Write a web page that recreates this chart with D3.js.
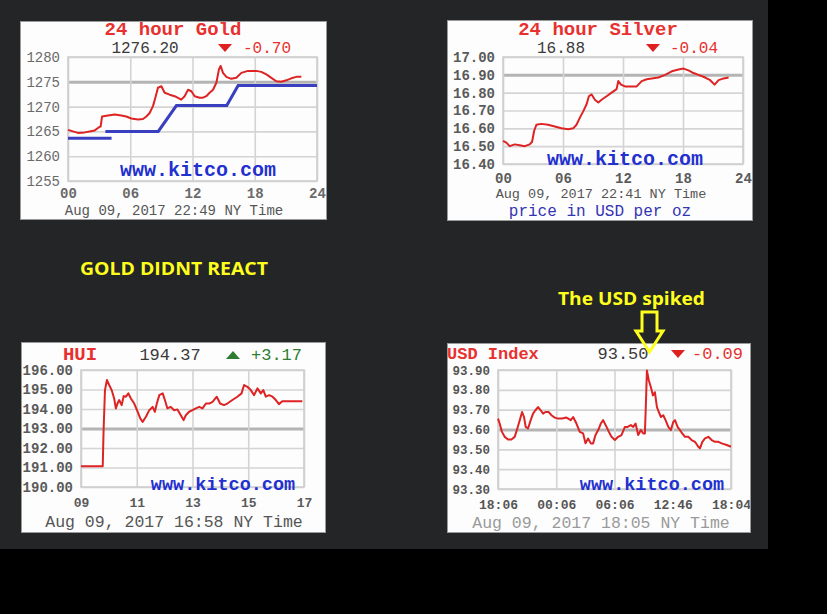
<!DOCTYPE html>
<html>
<head>
<meta charset="utf-8">
<script src="https://cdn.jsdelivr.net/npm/d3@7"></script>
<style>
body{margin:0;background:#000;}
svg text{font-family:"Liberation Mono","DejaVu Sans Mono",monospace;}
</style>
</head>
<body>
<svg id="canvas" width="827" height="614"></svg>
<script>
// ---- DATA ----

// 24 hour gold, hours since 00:00
var goldHours = [0,0.48,0.96,1.61,2.09,2.57,2.89,3.15,3.28,3.86,4.5,5.14,5.62,6.1,6.75,7.23,7.55,7.87,8.19,8.42,8.67,9.0,9.32,9.8,10.28,10.92,11.24,11.57,11.89,12.21,12.69,13.01,13.33,13.65,13.98,14.3,14.55,14.71,14.94,15.26,15.74,16.22,16.71,17.35,18.15,18.63,19.12,19.6,20.08,20.56,21.04,21.53,22.01,22.49];
var goldPrices = [1265.3,1265.0,1264.7,1264.8,1265.0,1265.2,1265.7,1266.0,1268.0,1268.2,1268.4,1268.2,1268.0,1267.6,1267.4,1267.5,1268.0,1268.7,1270.1,1271.8,1273.8,1274.1,1272.8,1272.4,1272.1,1271.4,1272.1,1273.4,1273.1,1272.1,1271.8,1271.8,1272.1,1272.8,1273.4,1274.8,1277.5,1278.2,1276.8,1276.0,1275.6,1275.8,1276.8,1277.2,1277.2,1277.0,1276.5,1275.8,1275.1,1275.0,1275.3,1275.7,1276.0,1276.0];
var goldTicks = [1255,1260,1265,1270,1275,1280];
// blue steps drawn over the gold chart
var goldStepAHours = [0,4.2], goldStepAPrices = [1263.6,1263.6];
var goldStepBHours = [3.6,8.7,10.45,15.3,16.4,24], goldStepBPrices = [1265.0,1265.0,1270.2,1270.2,1274.25,1274.25];

// 24 hour silver
var silverHours = [0,0.33,0.67,1.17,1.67,2.17,2.67,2.91,3.11,3.34,3.84,4.51,5.18,5.85,6.52,7.02,7.35,7.69,8.02,8.36,8.59,8.86,9.19,9.53,9.86,10.36,10.86,11.36,11.53,11.8,12.2,12.87,13.37,13.87,14.37,14.87,15.54,16.21,16.88,17.55,18.05,18.55,19.05,19.55,20.22,20.72,21.16,21.56,22.06,22.56];
var silverPrices = [16.53,16.52,16.50,16.51,16.505,16.50,16.51,16.525,16.585,16.62,16.625,16.62,16.61,16.60,16.595,16.60,16.62,16.66,16.695,16.735,16.78,16.79,16.76,16.745,16.76,16.78,16.80,16.82,16.865,16.845,16.835,16.835,16.835,16.865,16.875,16.88,16.885,16.90,16.92,16.93,16.935,16.925,16.91,16.90,16.885,16.87,16.845,16.87,16.88,16.885];
var silverTicks = [16.40,16.50,16.60,16.70,16.80,16.90,17.00];

var hourTicks = [0,6,12,18,24];
var hourLabels = ['00','06','12','18','24'];

// HUI, NY hours
var huiHours = [9.0,9.78,9.81,9.86,9.93,10.01,10.1,10.19,10.25,10.31,10.37,10.46,10.53,10.61,10.7,10.79,10.91,11.03,11.13,11.21,11.33,11.45,11.57,11.65,11.72,11.81,11.93,12.01,12.1,12.22,12.34,12.46,12.58,12.68,12.76,12.88,13.0,13.12,13.24,13.36,13.48,13.6,13.72,13.87,13.99,14.13,14.25,14.43,14.61,14.76,14.85,14.97,15.09,15.21,15.33,15.45,15.54,15.63,15.75,15.87,15.99,16.1,16.22,16.34,16.94];
var huiValues = [191.06,191.06,192.91,194.97,195.49,195.23,194.97,194.54,194.03,194.28,194.46,194.2,194.66,194.63,194.8,194.54,194.28,193.86,193.51,193.34,193.6,193.94,194.11,193.86,194.28,194.71,194.8,194.46,194.03,194.11,193.94,193.98,193.68,193.43,193.68,193.86,193.94,194.03,194.11,194.03,194.28,194.28,194.37,194.63,194.28,194.2,194.28,194.46,194.63,194.8,195.23,195.14,194.97,194.71,195.06,194.8,194.97,194.63,194.71,194.63,194.46,194.25,194.4,194.4,194.4];
var huiTicks = [190,191,192,193,194,195,196];
var huiHourTicks = [9,11,13,15,17];
var huiHourLabels = ['09','11','13','15','17'];

// USD index, hours since 18:06 the day before
var usdHours = [0,0.17,0.41,0.69,1.03,1.38,1.72,1.99,2.24,2.48,2.68,2.85,3.09,3.37,3.61,3.85,4.13,4.4,4.64,4.88,5.23,5.5,5.85,6.19,6.6,7.05,7.5,7.74,8.08,8.42,8.77,9.01,9.28,9.56,9.8,10.04,10.32,10.59,10.83,11.18,11.42,11.69,12.04,12.38,12.72,13.07,13.34,13.69,13.93,14.17,14.44,14.72,14.96,15.13,15.23,15.34,15.54,15.75,15.96,16.16,16.37,16.57,16.78,17.02,17.26,17.54,17.81,18.05,18.23,18.5,18.74,18.98,19.26,19.6,19.94,20.29,20.63,20.8,21.05,21.32,21.66,22.01,22.35,22.7,23.04,23.56,24];
var usdValues = [93.655,93.63,93.588,93.563,93.55,93.55,93.563,93.605,93.647,93.688,93.663,93.613,93.605,93.647,93.68,93.697,93.713,93.697,93.68,93.688,93.688,93.672,93.66,93.655,93.655,93.66,93.647,93.663,93.63,93.588,93.58,93.53,93.555,93.53,93.53,93.572,93.597,93.63,93.647,93.613,93.588,93.563,93.547,93.563,93.572,93.613,93.613,93.622,93.613,93.63,93.572,93.597,93.58,93.58,93.722,93.897,93.847,93.813,93.772,93.788,93.713,93.688,93.663,93.672,93.647,93.613,93.597,93.638,93.647,93.613,93.597,93.58,93.563,93.563,93.547,93.538,93.513,93.505,93.538,93.555,93.563,93.547,93.538,93.538,93.53,93.522,93.513];
var usdTicks = [93.30,93.40,93.50,93.60,93.70,93.80,93.90];
var usdHourLabels = ['18:06','00:06','06:06','12:46','18:04'];

// ---- DRAWING ----
var svg = d3.select('#canvas');

svg.append('rect').attr('x',0).attr('y',0).attr('width',768).attr('height',549).attr('fill','#232527');

function drawPanel(p) {
    var defs = svg.append('defs');
    defs.append('clipPath').attr('id','clip-'+p.id)
        .append('rect').attr('x',p.box[0]).attr('y',p.box[1]).attr('width',p.box[2]).attr('height',p.box[3]);

    var g = svg.append('g').attr('class','panel').attr('clip-path','url(#clip-'+p.id+')');
    g.append('rect')
        .attr('x',p.box[0]).attr('y',p.box[1]).attr('width',p.box[2]).attr('height',p.box[3])
        .attr('fill','#fdfdfd');

    var x = d3.scaleLinear().domain(p.xDomain).range([p.plot[0],p.plot[1]]);
    var y = d3.scaleLinear().domain(p.yDomain).range([p.plot[3],p.plot[2]]);
    var pw = p.plot[1]-p.plot[0], ph = p.plot[3]-p.plot[2];

    // horizontal grid + labels
    var yAxis = g.append('g').attr('transform','translate('+p.plot[0]+',0)')
        .call(d3.axisLeft(y).tickValues(p.yTicks).tickSize(-pw).tickPadding(p.yPad)
            .tickFormat(function(d){ return d3.format(p.yFormat)(d); }));
    yAxis.select('.domain').remove();
    yAxis.attr('font-family',null).attr('font-size',null);
    yAxis.selectAll('line')
        .attr('stroke',function(d){ return Math.abs(d-p.refLine)<1e-6 ? '#b4b4b4' : '#d4d4d4'; })
        .attr('stroke-width',function(d){ return Math.abs(d-p.refLine)<1e-6 ? 3 : 1.6; });
    yAxis.selectAll('text').attr('fill',p.tickColor).style('font-size',p.yFont+'px')
        .style('font-weight',p.tickWeight);

    // vertical grid + labels
    var xAxis = g.append('g').attr('transform','translate(0,'+p.plot[3]+')')
        .call(d3.axisBottom(x).tickValues(p.xTicks).tickSize(-ph).tickPadding(p.xPad)
            .tickFormat(function(d,i){ return p.xLabels[i]; }));
    xAxis.select('.domain').remove();
    xAxis.attr('font-family',null).attr('font-size',null);
    xAxis.selectAll('line').attr('stroke','#d4d4d4').attr('stroke-width',1.6);
    xAxis.selectAll('text').attr('fill',p.tickColor).style('font-size',p.xFont+'px')
        .style('font-weight','bold');

    // plot frame
    g.append('rect').attr('x',p.plot[0]).attr('y',p.plot[2]).attr('width',pw).attr('height',ph)
        .attr('fill','none').attr('stroke','#cfcfcf').attr('stroke-width',1.6);

    // kitco watermark
    g.append('text').attr('x',p.kitco[0]).attr('y',p.kitco[1]).attr('text-anchor','middle')
        .attr('dominant-baseline','central')
        .style('font-size',p.kitco[2]+'px').style('font-weight','bold').attr('fill','#2330d0')
        .text('www.kitco.com');

    // price line
    var line = d3.line().x(function(d){ return x(d[0]); }).y(function(d){ return y(d[1]); });
    g.append('path').datum(d3.zip(p.hours,p.values))
        .attr('d',line).attr('fill','none').attr('stroke','#dd2323')
        .attr('stroke-width',2).attr('stroke-linejoin','round');

    // extra overlay lines
    (p.overlays || []).forEach(function(o){
        g.append('path').datum(d3.zip(o.hours,o.values))
            .attr('d',line).attr('fill','none').attr('stroke','#3a3fc0')
            .attr('stroke-width',3);
    });

    // header texts
    p.texts.forEach(function(t){
        g.append('text').attr('x',t.x).attr('y',t.y)
            .attr('text-anchor',t.anchor || 'middle').attr('dominant-baseline','central')
            .style('font-size',t.size+'px').style('font-weight',t.weight || 'normal')
            .attr('fill',t.color).text(t.text);
    });

    // change triangle
    var tr = p.triangle;
    var pts = tr.up ? [[tr.x-7,tr.y+4],[tr.x+7,tr.y+4],[tr.x,tr.y-4]]
                    : [[tr.x-7,tr.y-4],[tr.x+7,tr.y-4],[tr.x,tr.y+4]];
    g.append('path').attr('d','M'+pts.join('L')+'Z').attr('fill',tr.color);

    svg.append('rect')
        .attr('x',p.box[0]+0.5).attr('y',p.box[1]+0.5).attr('width',p.box[2]-1).attr('height',p.box[3]-1)
        .attr('fill','none').attr('stroke','#9a9a9a').attr('stroke-width',1);
}

var red = '#e8302f', grey = '#3a3a3a';

drawPanel({
    id:'gold', box:[20,21,307,199], plot:[68,317,57,181],
    xDomain:[0,24], yDomain:[1255,1280], yTicks:goldTicks, yFormat:'d', refLine:1275,
    xTicks:hourTicks, xLabels:hourLabels,
    hours:goldHours, values:goldPrices,
    overlays:[{hours:goldStepAHours, values:goldStepAPrices},{hours:goldStepBHours, values:goldStepBPrices}],
    yPad:8, xPad:7, yFont:14, xFont:14, tickColor:'#6a6a6a', tickWeight:'normal',
    kitco:[198,170,20],
    texts:[
        {text:'24 hour Gold', x:173, y:30, size:19, weight:'bold', color:red},
        {text:'1276.20', x:145, y:49, size:16, color:grey},
        {text:'-0.70', x:243, y:49, size:16, color:red, anchor:'start'},
        {text:'Aug 09, 2017 22:49 NY Time', x:174, y:211, size:14, color:'#555'}
    ],
    triangle:{x:225, y:48, color:'#e02020'}
});

drawPanel({
    id:'silver', box:[447,20,306,201], plot:[503,743,57,164],
    xDomain:[0,24], yDomain:[16.40,17.00], yTicks:silverTicks, yFormat:'.2f', refLine:16.90,
    xTicks:hourTicks, xLabels:hourLabels,
    hours:silverHours, values:silverPrices,
    yPad:8, xPad:9, yFont:14, xFont:14, tickColor:'#5a5a5a', tickWeight:'bold',
    kitco:[625,159,20],
    texts:[
        {text:'24 hour Silver', x:598, y:30, size:19, weight:'bold', color:red},
        {text:'16.88', x:561, y:49, size:16, color:grey},
        {text:'-0.04', x:670, y:49, size:16, color:red, anchor:'start'},
        {text:'Aug 09, 2017 22:41 NY Time', x:601, y:194, size:13.5, color:'#555'},
        {text:'price in USD per oz', x:600, y:212, size:16, color:'#3434b4'}
    ],
    triangle:{x:653, y:48, color:'#e02020'}
});

drawPanel({
    id:'hui', box:[21,342,305,191], plot:[81,304,370,487],
    xDomain:[9,17], yDomain:[190,196], yTicks:huiTicks, yFormat:'.2f', refLine:193,
    xTicks:huiHourTicks, xLabels:huiHourLabels,
    hours:huiHours, values:huiValues,
    yPad:8, xPad:11, yFont:14, xFont:13, tickColor:'#5a5a5a', tickWeight:'bold',
    kitco:[223,485,18.5],
    texts:[
        {text:'HUI', x:80, y:355, size:19, weight:'bold', color:red},
        {text:'194.37', x:170, y:355, size:17, color:grey},
        {text:'+3.17', x:251, y:355, size:17, color:'#2f7d32', anchor:'start'},
        {text:'Aug 09, 2017 16:58 NY Time', x:174, y:522, size:16.5, color:'#555'}
    ],
    triangle:{x:233, y:355, up:true, color:'#2f7d32'}
});

drawPanel({
    id:'usd', box:[447,343,304,190], plot:[498,731,370,489],
    xDomain:[0,24], yDomain:[93.30,93.90], yTicks:usdTicks, yFormat:'.2f', refLine:93.60,
    xTicks:hourTicks, xLabels:usdHourLabels,
    hours:usdHours, values:usdValues,
    yPad:8, xPad:11, yFont:12.5, xFont:13, tickColor:'#555', tickWeight:'bold',
    kitco:[652,485,18.5],
    texts:[
        {text:'USD Index', x:447, y:354, size:17, weight:'bold', color:red, anchor:'start'},
        {text:'93.50', x:623, y:354, size:17, color:grey},
        {text:'-0.09', x:692, y:354, size:17, color:red, anchor:'start'},
        {text:'Aug 09, 2017 18:05 NY Time', x:601, y:523, size:16.5, color:'#9a9a9a'}
    ],
    triangle:{x:678, y:354, color:'#e02020'}
});

// yellow notes on the dark background
svg.append('text').attr('x',80).attr('y',268).attr('dominant-baseline','central')
    .attr('textLength',188).attr('lengthAdjust','spacingAndGlyphs')
    .style('font-family','"Open Sans",sans-serif').style('font-weight','bold').style('font-size','18px')
    .attr('fill','#ffff1e').text('GOLD DIDNT REACT');

svg.append('text').attr('x',558).attr('y',298).attr('dominant-baseline','central')
    .attr('textLength',147).attr('lengthAdjust','spacingAndGlyphs')
    .style('font-family','"Open Sans",sans-serif').style('font-weight','bold').style('font-size','18px')
    .attr('fill','#ffff1e').text('The USD spiked');

svg.append('path').attr('d','M642,312H657V331H663L649.5,352L636,331H642Z')
    .attr('fill','none').attr('stroke','#ffff1e').attr('stroke-width',3).attr('stroke-linejoin','miter');
</script>
</body>
</html>
